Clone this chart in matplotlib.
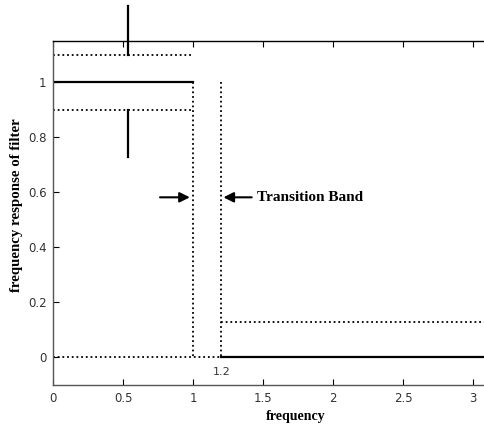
import numpy as np
import matplotlib.pyplot as plt

# filter specification
pass_edge = 1.0
stop_edge = 1.2
pass_upper = 1.1
pass_lower = 0.9
stop_level = 0.13
x_end = np.pi

# ripple marker (vertical bars above and below the pass band)
ripple_x = 0.536
ripple_top = [1.1, 1.277]
ripple_bot = [0.9, 0.728]

# arrows marking the transition band
arrow_y = 0.582
arrow_left = [0.762, 0.975]
arrow_right = [1.417, 1.215]

xticks = [0, 0.5, 1, 1.5, 2, 2.5, 3]
yticks = [0, 0.2, 0.4, 0.6, 0.8, 1]

fig = plt.figure(figsize=(4.85, 4.34), dpi=100)
ax = fig.add_axes([0.11, 0.1129, 0.9067, 0.7926])

dot = (0, (1, 1.6))
lw = 1.3

# ideal response
ax.plot([0, pass_edge], [1, 1], color='black', lw=1.6)
ax.plot([stop_edge, x_end], [0, 0], color='black', lw=1.6)

# tolerance lines
ax.plot([0, pass_edge], [pass_upper, pass_upper], color='black', lw=lw, ls=dot)
ax.plot([0, pass_edge], [pass_lower, pass_lower], color='black', lw=lw, ls=dot)
ax.plot([pass_edge, pass_edge], [1, 0], color='black', lw=lw, ls=dot)
ax.plot([stop_edge, stop_edge], [1, 0], color='black', lw=lw, ls=dot)
ax.plot([0, stop_edge], [0, 0], color='black', lw=lw, ls=dot)
ax.plot([stop_edge, x_end], [stop_level, stop_level], color='black', lw=lw, ls=dot)

# ripple bars
ax.plot([ripple_x, ripple_x], ripple_top, color='black', lw=1.6, clip_on=False)
ax.plot([ripple_x, ripple_x], ripple_bot, color='black', lw=1.6)

# arrows
for xs in (arrow_left, arrow_right):
    ax.annotate('', xy=(xs[1], arrow_y), xytext=(xs[0], arrow_y),
                arrowprops=dict(arrowstyle='-|>', color='black', lw=1.5,
                                mutation_scale=15, shrinkA=0, shrinkB=0))

ax.text(1.457, arrow_y, 'Transition Band', fontfamily='Liberation Serif',
        fontweight='bold', fontsize=11, va='center', ha='left')
ax.text(stop_edge, -0.054, '1.2', fontsize=8, color='#333333',
        ha='center', va='center')

ax.set_xlim(0, x_end)
ax.set_ylim(-0.1, 1.15)
ax.set_xticks(xticks)
ax.set_xticklabels(['0', '0.5', '1', '1.5', '2', '2.5', '3'])
ax.set_yticks(yticks)
ax.set_yticklabels(['0', '0.2', '0.4', '0.6', '0.8', '1'])
ax.tick_params(direction='in', length=4, labelsize=8.5, labelcolor='#333333',
               top=True, right=True, pad=5)
for s in ax.spines.values():
    s.set_linewidth(1.0)
ax.spines['left'].set_color('#555555')
ax.spines['bottom'].set_color('#555555')

ax.set_xlabel('frequency', fontfamily='Liberation Serif', fontweight='bold',
              fontsize=10)
ax.xaxis.set_label_coords(0.551, -0.073)
ax.set_ylabel('frequency response of filter', fontfamily='Liberation Serif',
              fontweight='bold', fontsize=10.7)
ax.yaxis.set_label_coords(-0.069, 0.522)

fig.savefig('out.png', dpi=100)
